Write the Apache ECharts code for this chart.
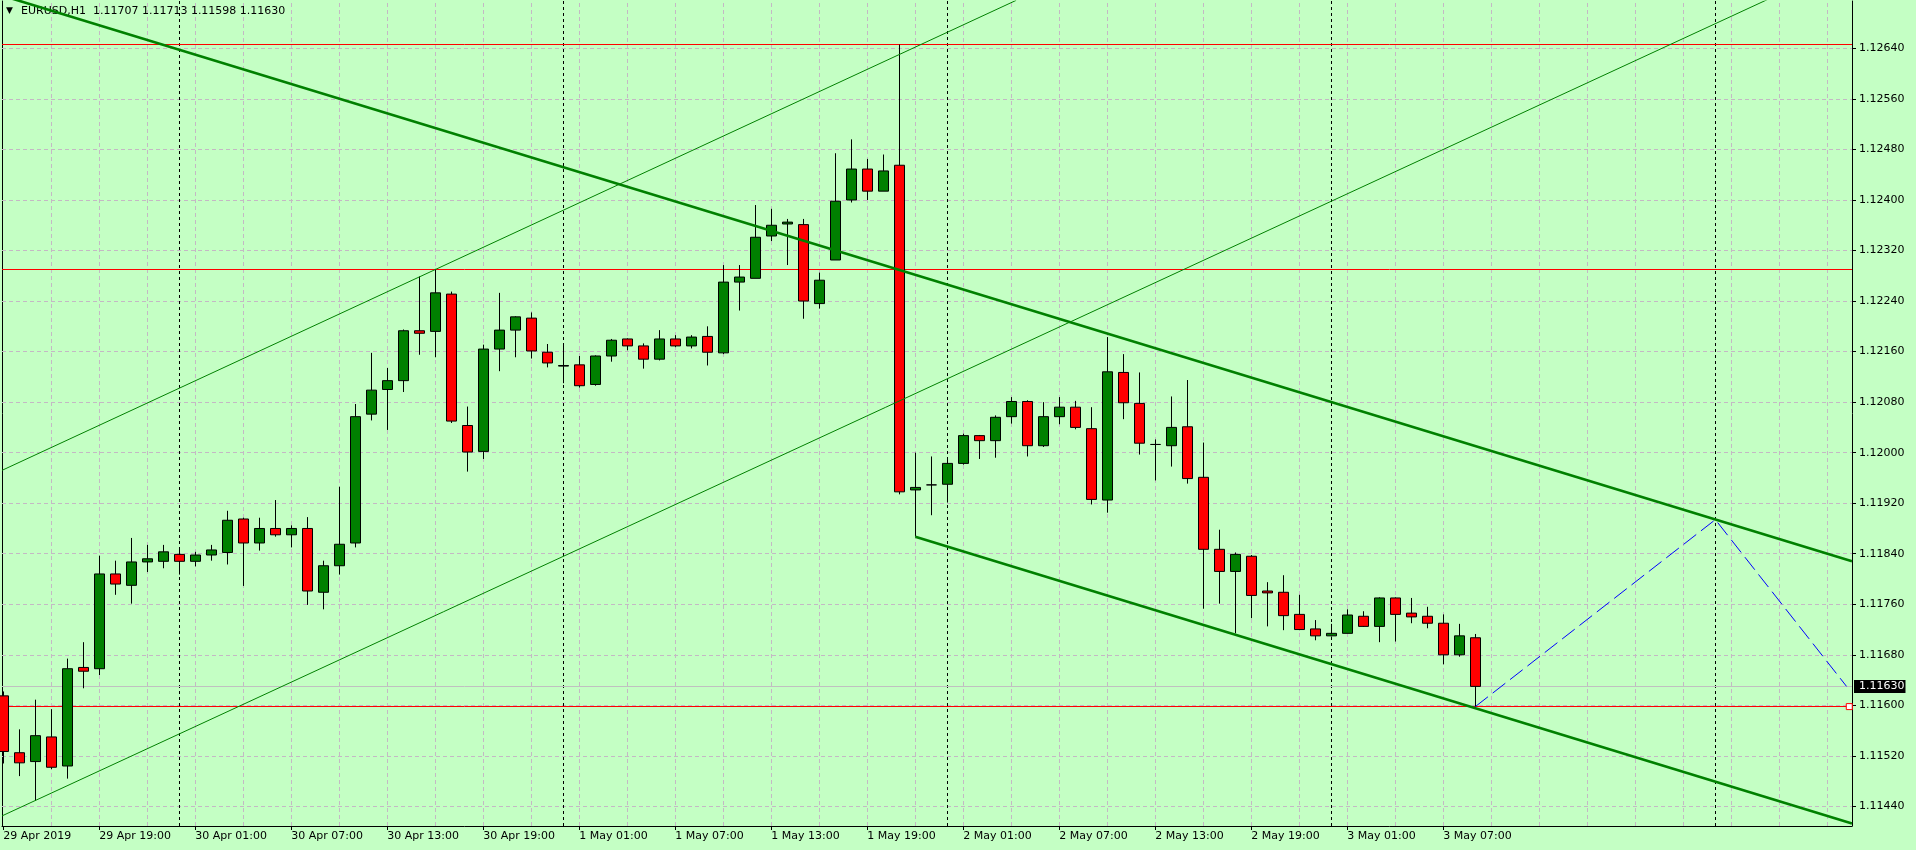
<!DOCTYPE html>
<html>
<head>
<meta charset="utf-8">
<script src="https://cdn.jsdelivr.net/npm/echarts@6/dist/echarts.min.js"></script>
<style>
html,body{margin:0;padding:0;background:#C4FFC4;}
#chart{width:1916px;height:850px;}
</style>
</head>
<body>
<div id="chart"></div>
<script>
// ---- data (hourly bars, EURUSD H1, bar 0 = 29 Apr 2019 13:00) ----
const symbolName = 'EURUSD,H1';
const open  = [1.11615,1.11525,1.11511,1.11550,1.11504,1.11660,1.11658,1.11808,1.11790,1.11827,
               1.11828,1.11839,1.11828,1.11838,1.11842,1.11895,1.11857,1.11880,1.11870,1.11880,
               1.11779,1.11821,1.11857,1.12061,1.12100,1.12114,1.12193,1.12192,1.12251,1.12043,
               1.12002,1.12164,1.12194,1.12213,1.12159,1.12137,1.12139,1.12108,1.12153,1.12180,
               1.12169,1.12148,1.12180,1.12169,1.12184,1.12158,1.12270,1.12276,1.12343,1.12362,
               1.12361,1.12236,1.12305,1.12400,1.12449,1.12414,1.12455,1.11941,1.11949,1.11950,
               1.11983,1.12027,1.12019,1.12057,1.12081,1.12011,1.12057,1.12072,1.12038,1.11925,
               1.12127,1.12078,1.12013,1.12011,1.12041,1.11961,1.11847,1.11812,1.11836,1.11781,
               1.11779,1.11744,1.11721,1.11710,1.11714,1.11741,1.11725,1.11770,1.11746,1.11741,
               1.11730,1.11680,1.11707];
const high  = [1.11622,1.11562,1.11609,1.11594,1.11674,1.11700,1.11837,1.11829,1.11865,1.11854,
               1.11854,1.11849,1.11843,1.11854,1.11908,1.11897,1.11897,1.11925,1.11885,1.11898,
               1.11829,1.11946,1.12077,1.12158,1.12134,1.12195,1.12279,1.12291,1.12255,1.12073,
               1.12171,1.12253,1.12216,1.12222,1.12172,1.12172,1.12153,1.12154,1.12180,1.12181,
               1.12173,1.12194,1.12186,1.12186,1.12200,1.12297,1.12297,1.12392,1.12386,1.12370,
               1.12370,1.12285,1.12474,1.12496,1.12465,1.12472,1.12646,1.12000,1.11994,1.11991,
               1.12030,1.12028,1.12059,1.12088,1.12083,1.12080,1.12088,1.12082,1.12072,1.12183,
               1.12156,1.12127,1.12021,1.12089,1.12115,1.12016,1.11878,1.11842,1.11838,1.11795,
               1.11806,1.11775,1.11735,1.11729,1.11752,1.11749,1.11771,1.11771,1.11770,1.11756,
               1.11744,1.11729,1.11713];
const low   = [1.11508,1.11488,1.11449,1.11499,1.11484,1.11627,1.11648,1.11775,1.11761,1.11811,
               1.11817,1.11807,1.11820,1.11829,1.11823,1.11789,1.11845,1.11867,1.11850,1.11759,
               1.11752,1.11807,1.11850,1.12051,1.12036,1.12096,1.12155,1.12151,1.12047,1.11970,
               1.11990,1.12129,1.12151,1.12149,1.12135,1.12110,1.12103,1.12106,1.12144,1.12162,
               1.12133,1.12146,1.12167,1.12165,1.12138,1.12156,1.12225,1.12276,1.12335,1.12297,
               1.12212,1.12228,1.12305,1.12396,1.12400,1.12414,1.11934,1.11867,1.11901,1.11921,
               1.11981,1.11990,1.11992,1.12046,1.11994,1.12009,1.12045,1.12037,1.11918,1.11905,
               1.12053,1.11997,1.11956,1.11978,1.11951,1.11753,1.11761,1.11714,1.11738,1.11725,
               1.11719,1.11719,1.11703,1.11709,1.11714,1.11724,1.11700,1.11701,1.11730,1.11722,
               1.11665,1.11677,1.11598];
const close = [1.11527,1.11509,1.11552,1.11502,1.11658,1.11654,1.11808,1.11792,1.11827,1.11832,
               1.11843,1.11828,1.11838,1.11846,1.11893,1.11857,1.11880,1.11870,1.11880,1.11781,
               1.11821,1.11855,1.12057,1.12099,1.12114,1.12193,1.12189,1.12253,1.12050,1.12001,
               1.12164,1.12194,1.12215,1.12161,1.12142,1.12138,1.12106,1.12153,1.12178,1.12169,
               1.12148,1.12180,1.12169,1.12183,1.12159,1.12270,1.12278,1.12341,1.12360,1.12365,
               1.12240,1.12273,1.12398,1.12449,1.12414,1.12446,1.11938,1.11945,1.11949,1.11983,
               1.12027,1.12019,1.12056,1.12081,1.12011,1.12057,1.12072,1.12040,1.11926,1.12128,
               1.12079,1.12015,1.12013,1.12040,1.11959,1.11847,1.11812,1.11839,1.11774,1.11778,
               1.11742,1.11720,1.11710,1.11714,1.11743,1.11725,1.11770,1.11744,1.11740,1.11730,
               1.11680,1.11710,1.11630];

// x axis: bar index of each time label
const xTickBars   = [0,6,12,18,24,30,36,42,48,54,60,66,72,78,84,90];
const xTickLabels = ['29 Apr 2019','29 Apr 19:00','30 Apr 01:00','30 Apr 07:00','30 Apr 13:00','30 Apr 19:00',
                     '1 May 01:00','1 May 07:00','1 May 13:00','1 May 19:00','2 May 01:00','2 May 07:00',
                     '2 May 13:00','2 May 19:00','3 May 01:00','3 May 07:00'];
const xGridBars   = [3,6,9,12,15,18,21,24,27,30,33,36,39,42,45,48,51,54,57,60,63,66,69,72,75,78,81,84,87,90,93,96,99,102,105,108,111,114];
const daySeparatorBars = [11,35,59,83,107];

// y axis ticks
const yTicks = [1.1144,1.1152,1.1160,1.1168,1.1176,1.1184,1.1192,1.1200,1.1208,1.1216,1.1224,1.1232,1.1240,1.1248,1.1256,1.1264];

// horizontal levels & bid
const levelPrices = [1.12646, 1.12290, 1.11598];
const bidPrice = 1.11630;

// trend lines as [bar, price] anchor pairs
const downChannelUpper = [[0, 1.12723], [115.54, 1.11828]];
const downChannelLower = [[57, 1.11867], [115.54, 1.11413]];
const upChannelUpper   = [[-0.08, 1.11972], [63.3, 1.12716]];
const upChannelLower   = [[-0.08, 1.11425], [111, 1.12726]];
const projection       = [[92, 1.11598], [107, 1.11894], [115.2, 1.11630]];

// ---- view ----
const X_MIN = -0.08, X_MAX = 115.54;
const Y_MIN = 1.11409, Y_MAX = 1.12715;
const FONT = 'DejaVu Sans';
const last = open.length - 1;
const titleText = symbolName + '  ' + [open[last], high[last], low[last], close[last]].map(v => v.toFixed(5)).join(' ');

const candleData = open.map((o, i) => [i, o, close[i], low[i], high[i]]);

const chart = echarts.init(document.getElementById('chart'), null, {renderer: 'canvas'});
chart.setOption({
  animation: false,
  backgroundColor: '#C4FFC4',
  title: [
    {text: '\u25BC', left: 6, top: 6, padding: 0, textStyle: {fontSize: 9, color: '#000', fontWeight: 'normal', fontFamily: FONT}},
    {text: titleText, left: 21, top: 6, padding: 0, textStyle: {fontSize: 11, color: '#000', fontWeight: 'normal', fontFamily: FONT}}
  ],
  grid: {left: 2, right: 64, top: 1, bottom: 24, show: false},
  xAxis: {
    type: 'value', min: X_MIN, max: X_MAX,
    axisLine: {show: true, onZero: false, lineStyle: {color: '#000', width: 1}},
    axisTick: {show: true, customValues: xTickBars, length: 4, lineStyle: {color: '#000'}},
    axisLabel: {
      customValues: xTickBars, align: 'left', margin: 5,
      fontFamily: FONT, fontSize: 11, color: '#000',
      formatter: v => { const i = xTickBars.indexOf(Math.round(v)); return i >= 0 ? xTickLabels[i] : ''; }
    },
    splitLine: {show: false}
  },
  yAxis: [
    {
      type: 'value', position: 'right', min: Y_MIN, max: Y_MAX, scale: true,
      axisLine: {show: true, onZero: false, lineStyle: {color: '#000', width: 1}},
      axisTick: {show: true, customValues: yTicks, length: 4, lineStyle: {color: '#000'}},
      axisLabel: {customValues: yTicks, margin: 7, fontFamily: FONT, fontSize: 11, color: '#000',
                  formatter: v => v.toFixed(5)},
      splitLine: {show: false}
    },
    {
      type: 'value', position: 'left', min: Y_MIN, max: Y_MAX, scale: true,
      axisLine: {show: true, onZero: false, lineStyle: {color: '#000', width: 1}},
      axisTick: {show: false}, axisLabel: {show: false}, splitLine: {show: false}
    }
  ],
  series: [
    { // dashed grid
      type: 'line', data: [], z: 1, silent: true,
      markLine: {
        silent: true, precision: 5, symbol: ['none', 'none'], label: {show: false}, animation: false,
        lineStyle: {color: '#C4B8C4', type: [4, 3], width: 1},
        data: yTicks.map(v => ({yAxis: v})).concat(xGridBars.map(k => ({xAxis: k})))
      }
    },
    { // day separators
      type: 'line', data: [], z: 2, silent: true,
      markLine: {
        silent: true, precision: 5, symbol: ['none', 'none'], label: {show: false}, animation: false,
        lineStyle: {color: '#000', type: [3, 3], width: 1},
        data: daySeparatorBars.map(k => ({xAxis: k}))
      }
    },
    { // bid line with price box
      type: 'line', data: [], z: 3, silent: true,
      markLine: {
        silent: true, precision: 5, symbol: ['none', 'none'], animation: false,
        lineStyle: {color: '#C0C0C0', type: 'solid', width: 1},
        label: {show: true, position: 'end', distance: 2, formatter: () => bidPrice.toFixed(5),
                backgroundColor: '#000', color: '#fff', fontFamily: FONT, fontSize: 11,
                padding: [1, 1, 0, 5], lineHeight: 12},
        data: [{yAxis: bidPrice}]
      }
    },
    {
      type: 'candlestick', name: symbolName, z: 5,
      data: candleData,
      encode: {x: 0, y: [1, 2, 3, 4]},
      barWidth: 10,
      itemStyle: {color: '#008000', color0: '#FF0000', borderColor: '#000', borderColor0: '#000', borderColorDoji: '#000', borderWidth: 1}
    },
    { // red horizontal levels
      type: 'line', data: [], z: 6, silent: true,
      markLine: {
        silent: true, precision: 5, symbol: ['none', 'none'], label: {show: false}, animation: false,
        lineStyle: {color: '#FF0000', type: 'solid', width: 1},
        data: levelPrices.map(v => ({yAxis: v}))
      },
      markPoint: {
        symbol: 'rect', symbolSize: 6, silent: true, animation: false,
        itemStyle: {color: '#fff', borderColor: '#FF0000', borderWidth: 1},
        label: {show: false},
        data: [{coord: [115.37, levelPrices[2]]}]
      }
    },
    {type: 'line', data: downChannelUpper, z: 7, symbol: 'none', clip: true, silent: true, lineStyle: {color: '#008000', width: 2.6}},
    {type: 'line', data: downChannelLower, z: 7, symbol: 'none', clip: true, silent: true, lineStyle: {color: '#008000', width: 2.6}},
    {type: 'line', data: upChannelUpper, z: 7, symbol: 'none', clip: true, silent: true, lineStyle: {color: '#008000', width: 1}},
    {type: 'line', data: upChannelLower, z: 7, symbol: 'none', clip: true, silent: true, lineStyle: {color: '#008000', width: 1}},
    {type: 'line', data: projection, z: 8, symbol: 'none', clip: true, silent: true, lineStyle: {color: '#0000FF', width: 1, type: [16, 6]}}
  ]
});
</script>
</body>
</html>
